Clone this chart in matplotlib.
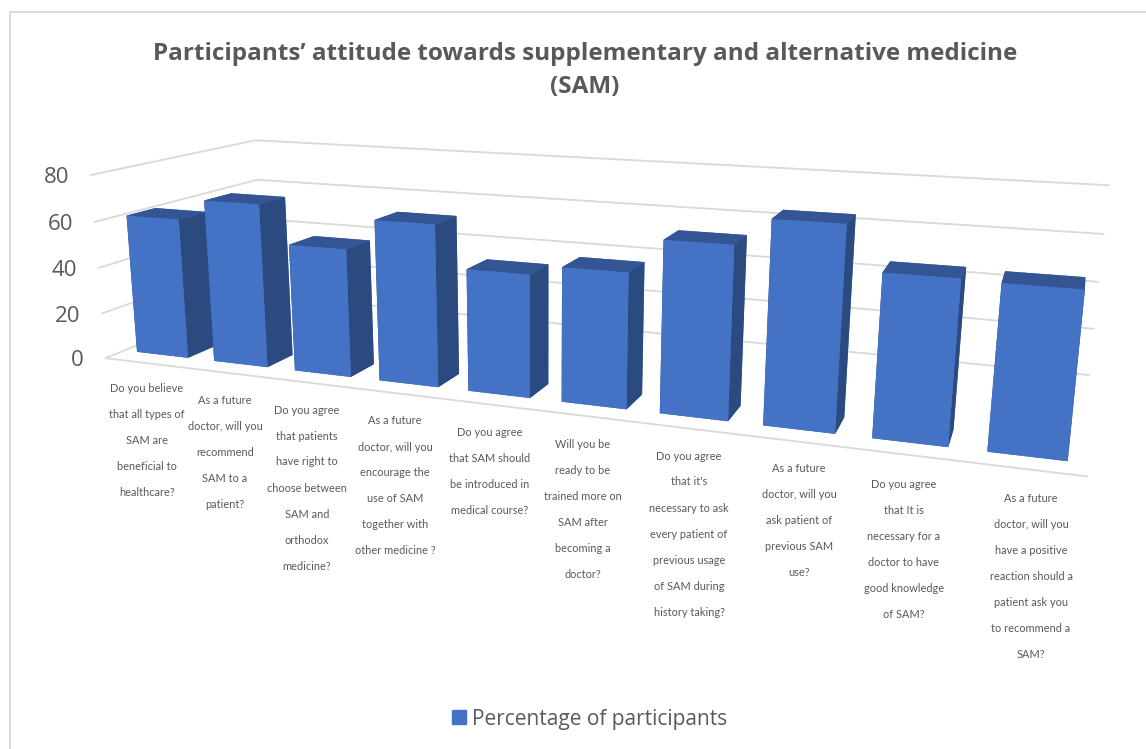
import numpy as np
import matplotlib
matplotlib.use('Agg')
import matplotlib.pyplot as plt
from matplotlib.lines import Line2D
from matplotlib.patches import Patch
from mpl_toolkits.mplot3d import proj3d
from mpl_toolkits.mplot3d.art3d import Line3DCollection

W, H = 1146, 749

questions = [
    ['Do you believe', 'that all types of', 'SAM are', 'beneficial to', 'healthcare?'],
    ['As a future', 'doctor, will you', 'recommend', 'SAM to a', 'patient?'],
    ['Do you agree', 'that patients', 'have right to', 'choose between', 'SAM and', 'orthodox', 'medicine?'],
    ['As a future', 'doctor, will you', 'encourage the', 'use of SAM', 'together with', 'other medicine ?'],
    ['Do you agree', 'that SAM should', 'be introduced in', 'medical course?'],
    ['Will you be', 'ready to be', 'trained more on', 'SAM after', 'becoming a', 'doctor?'],
    ['Do you agree', "that it's", 'necessary to ask', 'every patient of', 'previous usage', 'of SAM during', 'history taking?'],
    ['As a future', 'doctor, will you', 'ask patient of', 'previous SAM', 'use?'],
    ['Do you agree', 'that It is', 'necessary for a', 'doctor to have', 'good knowledge', 'of SAM?'],
    ['As a future', 'doctor, will you', 'have a positive', 'reaction should a', 'patient ask you', 'to recommend a', 'SAM?'],
]
percentages = [61, 70, 54, 67, 50, 54, 67.5, 78, 61.5, 61]
y_ticks = [0, 20, 40, 60, 80]

label_x = [147, 225, 307, 395, 490, 583, 689, 799, 904, 1031]
label_y = [389, 400, 410, 421, 432, 444, 456, 468, 484, 498]
line_step = 26

# world point -> pixel pairs used to solve the camera
anchors = [
    (0, 0, 0, 107, 357), (0, 0, 20, 102, 313), (0, 0, 40, 98, 268),
    (0, 0, 60, 93, 222), (0, 0, 80, 88, 176),
    (0, 1, 0, 261, 297), (0, 1, 60, 258, 179), (0, 1, 80, 257, 140),
    (10, 1, 0, 1090, 374), (10, 1, 20, 1095, 328), (10, 1, 40, 1099, 282),
    (10, 1, 60, 1104, 234), (10, 1, 80, 1109, 186),
    (10, 0, 0, 1088, 478),
]


def solve_camera(pts):
    rows = []
    for x, y, z, px, py in pts:
        u = [x / 10, y, z / 80, 1]
        px, py = px / 1000, py / 1000
        rows.append(u + [0, 0, 0, 0] + [-px * c for c in u])
        rows.append([0, 0, 0, 0] + u + [-py * c for c in u])
    p = np.linalg.svd(np.array(rows))[2][-1].reshape(3, 4)
    if p[2, 3] < 0:
        p = -p
    p = np.diag([1000, 1000, 1]) @ p @ np.diag([0.1, 1, 1 / 80, 1])
    # depth row gives -1/w so the far faces sort first
    return np.vstack([p[0], p[1], [0, 0, 0, -1], p[2]])


plt.rcParams['font.family'] = ['Open Sans', 'DejaVu Sans']
grey = '#595959'
grid = '#D9D9D9'

fig = plt.figure(figsize=(W / 100, H / 100), dpi=100)
fig.patch.set_facecolor('white')

# square axes wider than the figure, limits are in pixels from the top left
ax = fig.add_axes([0, -(W - H) / 2 / H, 1, W / H], projection='3d', computed_zorder=False)
ax.set_axis_off()
camera = solve_camera(anchors)
ax.get_proj = lambda: camera
ax.viewLim.intervalx = (0, W)
ax.viewLim.intervaly = (H + (W - H) / 2, -(W - H) / 2)

# walls and floor
segs = [[(0, 0, 0), (10, 0, 0)]]
for v in y_ticks:
    segs.append([(0, 0, v), (0, 1, v)])
    segs.append([(0, 1, v), (10, 1, v)])
    tick_x, tick_y, _ = proj3d.proj_transform(0, 0, v, camera)
    fig.text((tick_x - 21) / W, 1 - (tick_y + 2.5) / H, str(v), ha='right', va='center', fontsize=16, color=grey)
ax.add_collection3d(Line3DCollection(segs, colors=grid, linewidths=1.3, zorder=2))

# bars, faces in bar3d order: -z +z -y +y -x +x
n = len(percentages)
front, side, top = '#4472C4', '#2A4A80', '#335593'
face_colors = [front, top, front, front, side, side] * n
ax.bar3d(np.arange(n) + 1 / 6, np.full(n, 0.105), np.zeros(n), np.full(n, 2 / 3), np.full(n, 0.16),
         percentages, color=face_colors, shade=False, linewidth=0, zorder=3)

# category text, one line at a time because the spacing is wide
for lines, x, y in zip(questions, label_x, label_y):
    for k, line in enumerate(lines):
        fig.text(x / W, 1 - (y + k * line_step) / H, line, ha='center', va='center',
                 fontsize=7.9, color=grey, family=['Lato', 'DejaVu Sans'])

fig.text(585 / W, 1 - 70.5 / H, 'Participants\u2019 attitude towards supplementary and alternative medicine\n(SAM)',
         ha='center', va='center', fontsize=17.5, fontweight='bold', color=grey, linespacing=1.55)

fig.legend(handles=[Patch(color=front, label='Percentage of participants')], loc='center',
           bbox_to_anchor=(589.5 / W, 1 - 719 / H), frameon=False, fontsize=15, labelcolor=grey,
           handlelength=0.67, handleheight=0.67, handletextpad=0.29)

# chart area border
fig.add_artist(Line2D([10 / W, 10 / W, 1], [0, 1 - 12 / H, 1 - 12 / H], color=grid, lw=1.3))

fig.savefig('out.png', dpi=100)
